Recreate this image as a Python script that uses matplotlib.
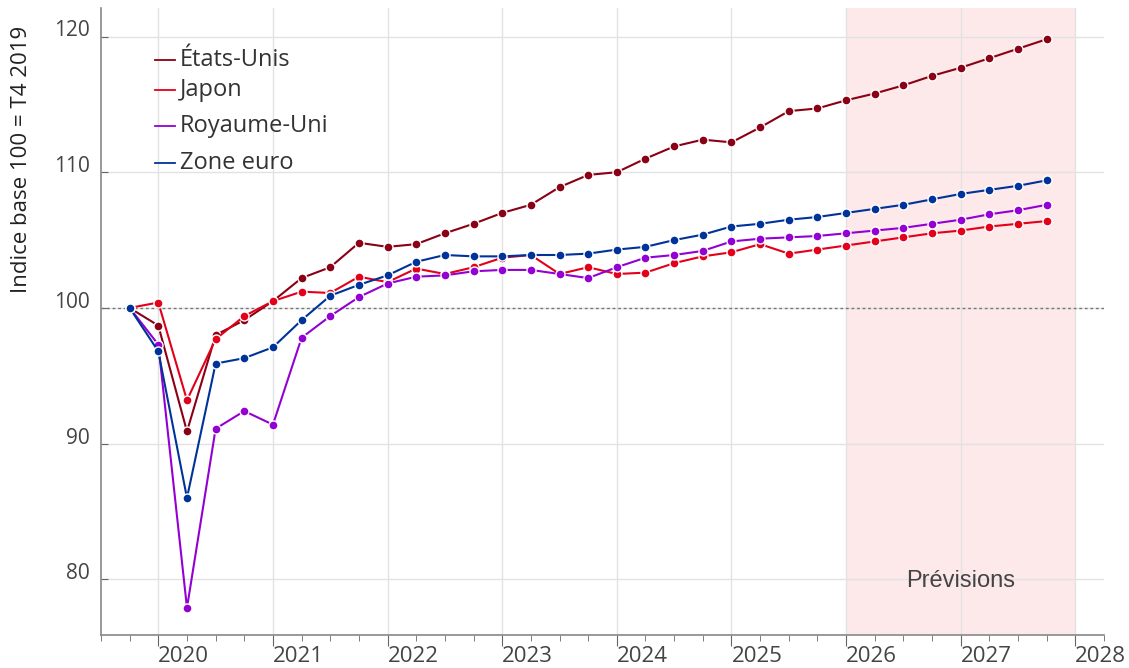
import numpy as np
import matplotlib
matplotlib.use("Agg")
import matplotlib.pyplot as plt
from matplotlib.ticker import FixedLocator

# quarters from T4 2019 to T4 2027
quarters = [2019.75 + 0.25 * i for i in range(33)]

etats_unis = [100.0, 98.7, 90.9, 98.0, 99.1, 100.5, 102.2, 103.0, 104.8, 104.5,
              104.7, 105.5, 106.2, 107.0, 107.6, 108.9, 109.8, 110.0, 111.0, 111.9,
              112.4, 112.2, 113.3, 114.5, 114.7, 115.3, 115.8, 116.4, 117.1, 117.7,
              118.4, 119.1, 119.8]
japon = [100.0, 100.4, 93.2, 97.7, 99.4, 100.5, 101.2, 101.1, 102.3, 101.9,
         102.9, 102.5, 103.0, 103.7, 103.9, 102.5, 103.0, 102.5, 102.6, 103.3,
         103.8, 104.1, 104.7, 104.0, 104.3, 104.6, 104.9, 105.2, 105.5, 105.7,
         106.0, 106.2, 106.4]
royaume_uni = [100.0, 97.3, 77.9, 91.1, 92.4, 91.4, 97.8, 99.4, 100.8, 101.8,
               102.3, 102.4, 102.7, 102.8, 102.8, 102.5, 102.2, 103.0, 103.7, 103.9,
               104.2, 104.9, 105.1, 105.2, 105.3, 105.5, 105.7, 105.9, 106.2, 106.5,
               106.9, 107.2, 107.6]
zone_euro = [100.0, 96.8, 86.0, 95.9, 96.3, 97.1, 99.1, 100.9, 101.7, 102.4,
             103.4, 103.9, 103.8, 103.8, 103.9, 103.9, 104.0, 104.3, 104.5, 105.0,
             105.4, 106.0, 106.2, 106.5, 106.7, 107.0, 107.3, 107.6, 108.0, 108.4,
             108.7, 109.0, 109.4]

series = [("États-Unis", etats_unis, "#8a0014"),
          ("Japon", japon, "#e2001a"),
          ("Royaume-Uni", royaume_uni, "#9400d3"),
          ("Zone euro", zone_euro, "#003399")]

years = list(range(2020, 2029))
yticks = [80, 90, 100, 110, 120]

plt.rcParams['font.family'] = ['Open Sans', 'DejaVu Sans']
txt = "#444444"

fig = plt.figure(figsize=(11.29, 6.68), dpi=100)
ax = fig.add_axes([101 / 1129, 1 - 635 / 668, 1003 / 1129, 627 / 668])

# forecast area
ax.axvspan(2026, 2028, color="#fde9ea", zorder=0, lw=0)
ax.text(2027, 79.9, "Prévisions", ha="center", va="center", fontsize=17,
        color=txt, family=["Liberation Sans", "DejaVu Sans"])

ax.axhline(100, color="#777777", lw=1, ls=(0, (2, 2)), zorder=1)

for name, vals, col in series:
    ax.plot(quarters, vals, color=col, lw=1.5, marker="o", ms=6.5,
            mec="white", mew=1, label=name, zorder=3)

ax.set_xlim(2019.5, 2028.25)
ax.set_ylim(75.9, 122.1)

ax.xaxis.set_major_locator(FixedLocator(years))
ax.xaxis.set_minor_locator(FixedLocator([q for q in np.arange(2019.5, 2028.3, 0.25)]))
ax.set_xticklabels([str(y) for y in years], ha="left")
ax.set_yticks(yticks)
ax.tick_params(axis="x", which="major", length=8, color="#666666", labelsize=16,
               labelcolor=txt, pad=0)
ax.tick_params(axis="x", which="minor", length=4, color="#666666")
ax.tick_params(axis="y", direction="in", length=5, color="#666666", labelsize=15,
               labelcolor=txt, pad=8)
for lab in ax.get_yticklabels():
    lab.set_va("baseline")

ax.set_axisbelow(True)
ax.grid(True, which="major", color="#e2e2e2", lw=1)
for s in ["top", "right"]:
    ax.spines[s].set_visible(False)
for s in ["left", "bottom"]:
    ax.spines[s].set_color("#888888")
    ax.spines[s].set_linewidth(1.2)

ax.set_ylabel("Indice base 100 = T4 2019", fontsize=16, color="#222222")
ax.yaxis.set_label_coords(-0.069, 0.758)

# legend drawn by hand (uneven spacing as in the original)
leg_y = [60, 90, 126, 163]
for (name, vals, col), py in zip(series, leg_y):
    yf = (635 - py) / 627
    ax.plot([(155 - 101) / 1003, (175 - 101) / 1003], [yf, yf], color=col, lw=1.3,
            transform=ax.transAxes, clip_on=False)
    ax.text((180 - 101) / 1003, yf, name, transform=ax.transAxes, va="center",
            ha="left", fontsize=17, color="#333333")

fig.savefig("out.png", dpi=100)
